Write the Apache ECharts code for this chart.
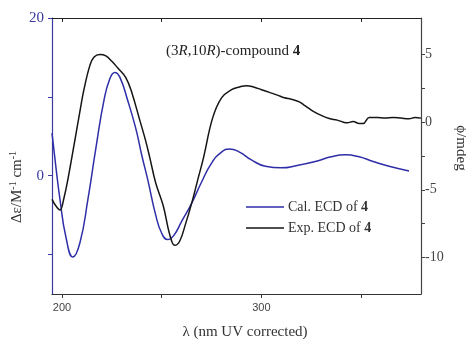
<!DOCTYPE html>
<html>
<head>
<meta charset="utf-8">
<script src="https://cdn.jsdelivr.net/npm/echarts@6/dist/echarts.min.js"></script>
<style>
  html, body { margin: 0; padding: 0; background: #fff; }
  #chart { width: 466px; height: 341px; }
</style>
</head>
<body>
<div id="chart"></div>
<script>
// calculated ECD (left axis, Δε)
const calWavelength = [195, 197, 199, 202, 205.5, 209, 213, 217, 221, 224, 226.5, 229, 233, 237, 240, 243, 247, 250, 253, 256, 260, 265, 270, 275, 280, 284, 289, 295, 302, 310, 318, 327, 335, 342, 349, 356, 364, 374]
const calDelta = [5.4, 1.0, -3.0, -7.8, -10.3, -8.5, -3.0, 3.5, 9.5, 12.3, 13.1, 12.5, 9.5, 6.0, 2.6, -0.5, -5.0, -7.3, -8.1, -7.6, -5.8, -3.5, -0.8, 1.6, 3.0, 3.4, 3.0, 2.0, 1.2, 1.0, 1.3, 1.8, 2.4, 2.65, 2.4, 1.8, 1.2, 0.6]

// experimental ECD (right axis, mdeg)
const expWavelength = [195, 197, 199, 201, 203, 206.5, 209, 211, 214, 216, 219, 222, 225, 228, 232, 235, 239, 242, 244, 247, 250.8, 254, 256.5, 259, 262, 265, 268, 271, 275.5, 280, 285, 289, 292.5, 296, 300, 304, 308, 311.5, 315, 319, 322, 326, 330, 334, 338, 341, 343, 346, 349, 351, 354, 358, 362, 366, 370, 374, 377, 380]
const expMdeg = [-5.7, -6.2, -6.5, -5.6, -4.2, -1.3, 0.8, 2.4, 4.2, 4.8, 5.0, 4.9, 4.5, 4.0, 3.3, 2.2, 0.15, -1.4, -2.6, -4.5, -6.2, -8.3, -9.1, -8.8, -7.5, -6.0, -4.3, -2.6, 0.3, 1.8, 2.4, 2.6, 2.7, 2.6, 2.4, 2.2, 2.0, 1.8, 1.7, 1.5, 1.2, 0.8, 0.5, 0.27, 0.15, 0.0, -0.05, 0.05, -0.1, -0.1, 0.35, 0.35, 0.3, 0.35, 0.3, 0.25, 0.35, 0.3]

// ticks
const xTicks = [200, 250, 300, 350]
const xTickLabels = [200, 300]
const leftTicks = [-10, 0, 10, 20]
const leftTickLabels = [0, 20]
const rightTicks = [-10, -7.5, -5, -2.5, 0, 2.5, 5]
const rightTickLabels = [-10, -5, 0, 5]

const BLUE = '#3a3aa0'
const serif = '"Liberation Serif", "Times New Roman", serif'
const sans = '"Liberation Sans", Arial, sans-serif'

const chart = echarts.init(document.getElementById('chart'))

const zip = (xs, ys) => xs.map((x, i) => [x, ys[i]])

const option = {
  animation: false,
  grid: { left: 52, right: 45, top: 18, bottom: 47 },
  legend: {
    orient: 'vertical',
    left: 241,
    top: 195,
    icon: 'rect',
    itemWidth: 38,
    itemHeight: 1.5,
    itemGap: 7,
    textStyle: {
      fontFamily: serif, fontSize: 14, color: '#333', padding: [0, 0, 0, -1],
      rich: { b: { fontFamily: serif, fontSize: 14, fontWeight: 'bold', color: '#333' } }
    },
    formatter: name => name.replace(/ 4$/, ' {b|4}'),
    data: ['Cal. ECD of 4', 'Exp. ECD of 4']
  },
  xAxis: [
    {
      type: 'value', position: 'bottom',
      min: 195, max: 380,
      axisLine: { onZero: false, lineStyle: { color: '#333', width: 1.2 } },
      axisTick: { show: true, inside: false, length: 4, customValues: xTicks, lineStyle: { color: '#333' } },
      axisLabel: { customValues: xTickLabels, fontFamily: sans, fontSize: 11, color: '#444', margin: 8 },
      splitLine: { show: false }
    },
    {
      type: 'value', position: 'top',
      min: 195, max: 380,
      axisLine: { onZero: false, lineStyle: { color: '#222', width: 1.2 } },
      axisTick: { show: true, inside: true, length: 4, customValues: xTicks, lineStyle: { color: '#222' } },
      axisLabel: { show: false },
      splitLine: { show: false }
    }
  ],
  yAxis: [
    {
      type: 'value', position: 'left',
      min: -15, max: 20,
      axisLine: { show: true, onZero: false, lineStyle: { color: BLUE, width: 1.2 } },
      axisTick: { show: true, inside: false, length: 4, customValues: leftTicks, lineStyle: { color: BLUE } },
      axisLabel: { customValues: leftTickLabels, fontFamily: serif, fontSize: 15, color: BLUE, margin: 8 },
      splitLine: { show: false }
    },
    {
      type: 'value', position: 'right',
      min: -12.7, max: 7.7,
      axisLine: { show: true, onZero: false, lineStyle: { color: '#444', width: 1.2 } },
      axisTick: { show: true, inside: false, length: 4, customValues: rightTicks, lineStyle: { color: '#444' } },
      axisLabel: { customValues: rightTickLabels, fontFamily: serif, fontSize: 14, color: '#444', margin: 4 },
      splitLine: { show: false }
    }
  ],
  series: [
    {
      name: 'Cal. ECD of 4',
      type: 'line',
      yAxisIndex: 0,
      data: zip(calWavelength, calDelta),
      smooth: 0.5,
      symbol: 'none',
      lineStyle: { color: '#2e2ea8', width: 1.5 },
      itemStyle: { color: '#2e2ea8' }
    },
    {
      name: 'Exp. ECD of 4',
      type: 'line',
      yAxisIndex: 1,
      data: zip(expWavelength, expMdeg),
      smooth: 0.4,
      symbol: 'none',
      lineStyle: { color: '#151515', width: 1.5 },
      itemStyle: { color: '#151515' }
    }
  ],
  graphic: [
    {
      type: 'text', left: 166, top: 44,
      style: {
        text: '(3{i|R},10{i|R})-compound {b|4}',
        font: '15px ' + serif, fill: '#222',
        rich: {
          i: { fontFamily: serif, fontSize: 15, fontStyle: 'italic', fill: '#222' },
          b: { fontFamily: serif, fontSize: 15, fontWeight: 'bold', fill: '#222' }
        }
      }
    },
    {
      type: 'text', x: 17, y: 187, rotation: Math.PI / 2,
      style: {
        text: 'Δε/M{s|-1} cm{s|-1}',
        font: '15px ' + serif, fill: '#333',
        align: 'center', verticalAlign: 'middle',
        rich: { s: { fontFamily: serif, fontSize: 10, verticalAlign: 'top', padding: [0, 0, 8, 0] } }
      }
    },
    {
      type: 'text', x: 461, y: 148, rotation: -Math.PI / 2,
      style: {
        text: 'ϕ/mdeg',
        font: '15px ' + serif, fill: '#333',
        align: 'center', verticalAlign: 'middle'
      }
    },
    {
      type: 'text', x: 245, y: 332,
      style: {
        text: 'λ (nm UV corrected)',
        font: '15px ' + serif, fill: '#333',
        align: 'center', verticalAlign: 'middle'
      }
    }
  ]
}

chart.setOption(option)
</script>
</body>
</html>
